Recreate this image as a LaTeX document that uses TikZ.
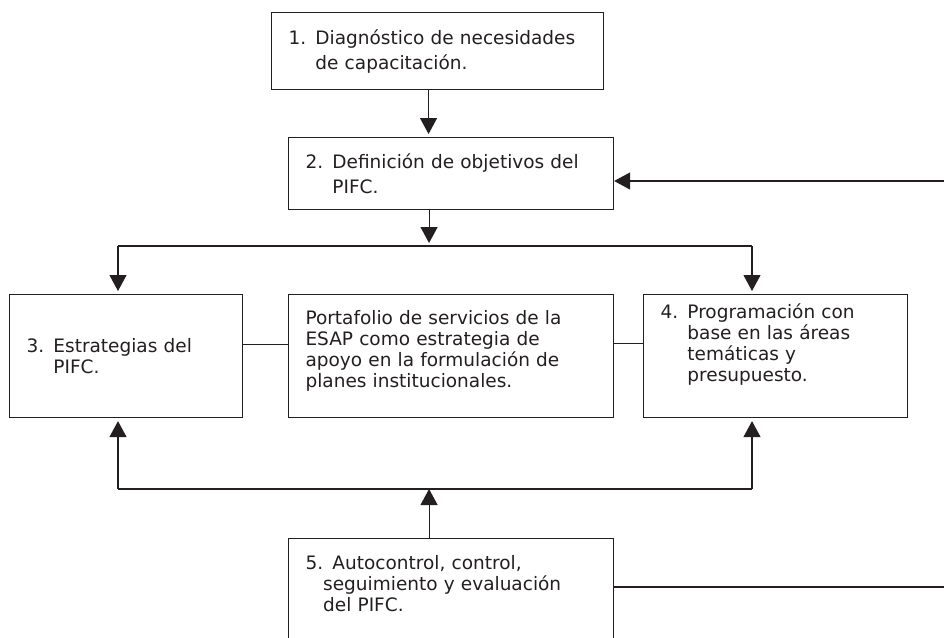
\documentclass[tikz,border=0pt]{standalone}
\usepackage{fontspec}
\setmainfont{DejaVu Sans}
\usetikzlibrary{arrows.meta}
\definecolor{trazo}{HTML}{231F20}

\begin{document}
\begin{tikzpicture}[x=1pt,y=-1pt,
    line width=1.1pt, color=trazo,
    caja/.style={draw, rectangle, anchor=north west, align=left,
      inner xsep=17pt, inner ysep=0pt,
      font=\fontsize{18.5}{21}\selectfont},
    holgada/.style={font=\fontsize{18.5}{25}\selectfont},
    flecha/.style={-{Triangle[length=16pt,width=17pt]}, shorten >=3pt}]

  \useasboundingbox (0,0) rectangle (944,637);
  \clip (0,0) rectangle (944,637);

  % Define boxes
  \node[caja, holgada, text width=298pt, minimum height=77pt] (b1) at (271,12)
    {1. Diagnóstico de necesidades\\\phantom{1. }de capacitación.};
  \node[caja, holgada, text width=291pt, minimum height=72pt] (b2) at (288,137)
    {2. Definición de objetivos del\\\phantom{2. }PIFC.};
  \node[caja, text width=199pt, minimum height=123pt] (b3) at (9,294)
    {3. Estrategias del\\\phantom{3. }PIFC.};
  \node[caja, text width=291pt, minimum height=123pt, text depth=77pt] (port) at (288,294)
    {Portafolio de servicios de la\\ESAP como estrategia de\\apoyo en la formulación de\\planes institucionales.};
  \node[caja, text width=230pt, minimum height=123pt, text depth=89pt] (b4) at (643,294)
    {4. Programación con\\\phantom{4. }base en las áreas\\\phantom{4. }temáticas y\\\phantom{4. }presupuesto.};
  \node[caja, text width=291pt, inner ysep=17pt, text depth=100pt] (b5) at (288,538)
    {5. Autocontrol, control,\\\phantom{5.}seguimiento y evaluación\\\phantom{5.}del PIFC.};

  % Draw connectors
  \coordinate (izq) at (118,246);
  \coordinate (der) at (752,246);
  \coordinate (izqb) at (118,489);
  \coordinate (derb) at (752,489);
  \coordinate (retorno) at (944,181);
  \coordinate (salida) at (944,587);

  \draw[flecha] ([xshift=-9pt]b1.south) -- ([xshift=-9pt]b1.south |- b2.north);
  \draw[flecha] ([xshift=-22pt]b2.south) -- ([xshift=-22pt]b2.south |- izq);
  \draw (izq) -- (der);
  \draw[flecha] (izq) -- (izq |- b3.north);
  \draw[flecha] (der) -- (der |- b4.north);

  \draw ([yshift=12pt]b3.east) -- ([yshift=12pt]b3.east -| port.west);
  \draw ([yshift=13pt]port.east) -- ([yshift=13pt]port.east -| b4.west);

  \draw (izqb) -- (derb);
  \draw[flecha] (izqb) -- (izqb |- b3.south);
  \draw[flecha] (derb) -- (derb |- b4.south);
  \draw[flecha, shorten >=0pt] ([xshift=-22pt]b5.north) -- ([xshift=-22pt]b5.north |- izqb);

  \draw[flecha, shorten >=0pt] (retorno) -- (retorno -| b2.east);
  \draw (salida -| b5.east) -- (salida);

\end{tikzpicture}
\end{document}
